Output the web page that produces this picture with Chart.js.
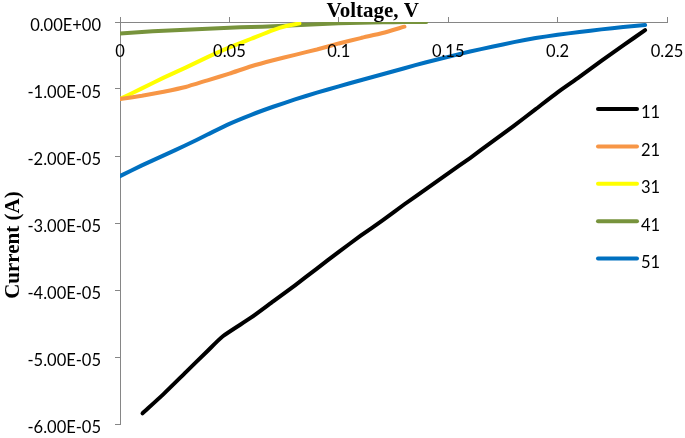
<!DOCTYPE html>
<html><head><meta charset="utf-8">
<script src="https://cdn.jsdelivr.net/npm/chart.js@4"></script>
<style>html,body{margin:0;padding:0;background:#fff}#wrap{width:685px;height:438px}</style>
</head><body><div id="wrap"><canvas id="c" width="685" height="438"></canvas></div>
<script>
const seriesNames = ['11','21','31','41','51'];
const seriesColors = ['#000000','#F79646','#FFFF00','#77933C','#0070C0'];

const volt11 = [0.0103,0.02,0.03,0.04,0.047,0.06,0.07,0.08,0.09,0.10,0.11,0.12,0.13,0.14,0.15,0.16,0.17,0.18,0.19,0.20,0.21,0.22,0.23,0.24];
const curr11 = [-5.84e-5,-5.55e-5,-5.23e-5,-4.91e-5,-4.69e-5,-4.41e-5,-4.17e-5,-3.93e-5,-3.68e-5,-3.43e-5,-3.19e-5,-2.96e-5,-2.72e-5,-2.49e-5,-2.26e-5,-2.03e-5,-1.79e-5,-1.55e-5,-1.30e-5,-1.05e-5,-0.82e-5,-0.58e-5,-0.35e-5,-0.12e-5];

const volt21 = [0,0.01,0.02,0.03,0.04,0.05,0.06,0.07,0.08,0.09,0.10,0.11,0.12,0.13];
const curr21 = [-1.15e-5,-1.10e-5,-1.04e-5,-0.97e-5,-0.87e-5,-0.77e-5,-0.66e-5,-0.57e-5,-0.49e-5,-0.41e-5,-0.32e-5,-0.24e-5,-0.165e-5,-0.07e-5];

const volt31 = [0,0.01,0.02,0.03,0.04,0.05,0.06,0.07,0.076,0.082];
const curr31 = [-1.15e-5,-0.99e-5,-0.83e-5,-0.68e-5,-0.525e-5,-0.38e-5,-0.25e-5,-0.12e-5,-0.06e-5,-0.02e-5];

const volt41 = [0,0.01,0.02,0.03,0.04,0.05,0.06,0.07,0.08,0.09,0.10,0.11,0.12,0.13,0.14];
const curr41 = [-0.17e-5,-0.15e-5,-0.13e-5,-0.115e-5,-0.10e-5,-0.085e-5,-0.075e-5,-0.065e-5,-0.05e-5,-0.035e-5,-0.02e-5,-0.01e-5,-0.005e-5,0,0];

const volt51 = [0,0.01,0.02,0.03,0.04,0.05,0.06,0.07,0.08,0.09,0.10,0.11,0.12,0.13,0.14,0.15,0.16,0.17,0.18,0.19,0.20,0.21,0.22,0.23,0.24];
const curr51 = [-2.30e-5,-2.14e-5,-1.99e-5,-1.84e-5,-1.68e-5,-1.52e-5,-1.385e-5,-1.265e-5,-1.155e-5,-1.055e-5,-0.96e-5,-0.87e-5,-0.78e-5,-0.69e-5,-0.60e-5,-0.52e-5,-0.44e-5,-0.37e-5,-0.30e-5,-0.24e-5,-0.19e-5,-0.15e-5,-0.11e-5,-0.075e-5,-0.045e-5];

const xTickValues = [0,0.05,0.1,0.15,0.2,0.25];
const xTickLabels = ['0','0.05','0.1','0.15','0.2','0.25'];
const xTitle = 'Voltage, V';
const yTitle = 'Current (A)';

const volts = [volt11, volt21, volt31, volt41, volt51];
const currs = [curr11, curr21, curr31, curr41, curr51];

function pts(v, c){ return v.map((x,i)=>({x:x, y:c[i]})); }
function fmtE(val){
  const s = Number(val).toExponential(2);
  const parts = s.split('e');
  const sign = parts[1][0] === '-' ? '-' : '+';
  let d = parts[1].replace(/[+-]/,'');
  if (d.length < 2) d = '0' + d;
  return parts[0] + 'E' + sign + d;
}

const AXIS = '#868686';
const FS = 16.5;
const TICKFONT = {family: 'Lato', size: FS};

const overlay = {
  id: 'overlay',
  afterDraw(chart){
    const ctx = chart.ctx, ca = chart.chartArea, xs = chart.scales.x;
    ctx.save();
    ctx.font = FS + 'px Lato';
    ctx.fillStyle = '#000';
    ctx.textAlign = 'center';
    ctx.textBaseline = 'middle';
    xTickValues.forEach((v,i)=>{
      ctx.fillText(xTickLabels[i], xs.getPixelForValue(v), ca.top + 30);
    });
    ctx.font = 'bold 21px "Liberation Serif", "Times New Roman", serif';
    ctx.textAlign = 'center';
    ctx.textBaseline = 'alphabetic';
    ctx.fillText(xTitle, ca.left + (ca.right - ca.left) * 0.462, 17);
    ctx.save();
    ctx.translate(14, ca.top + (ca.bottom - ca.top) * 0.555);
    ctx.rotate(-Math.PI/2);
    ctx.textBaseline = 'middle';
    ctx.fillText(yTitle, 0, 0);
    ctx.restore();
    chart.data.datasets.forEach((ds,i)=>{
      const y = 109 + i * 37.4;
      ctx.strokeStyle = ds.borderColor;
      ctx.lineWidth = 4;
      ctx.lineCap = 'round';
      ctx.beginPath();
      ctx.moveTo(598, y);
      ctx.lineTo(637, y);
      ctx.stroke();
      ctx.fillStyle = '#000';
      ctx.font = FS + 'px Lato';
      ctx.textAlign = 'left';
      ctx.textBaseline = 'middle';
      ctx.fillText(ds.label, 641, y + 4);
    });
    ctx.restore();
  }
};

new Chart(document.getElementById('c'), {
  type: 'scatter',
  data: {
    datasets: seriesNames.map((n,i)=>({
      label: n,
      data: pts(volts[i], currs[i]),
      showLine: true,
      borderColor: seriesColors[i],
      backgroundColor: seriesColors[i],
      borderWidth: 4,
      pointRadius: 0,
      pointHoverRadius: 0,
      tension: 0.2,
      borderCapStyle: 'round',
      borderJoinStyle: 'round'
    }))
  },
  options: {
    responsive: false,
    animation: false,
    events: [],
    layout: {padding: {left: 0, top: 0, right: 18, bottom: 14}},
    plugins: {legend: {display: false}, tooltip: {enabled: false}, title: {display: false}},
    scales: {
      x: {
        type: 'linear', position: 'top', min: 0, max: 0.25,
        afterFit(s){ s.height = 22; s.paddingLeft = 0; s.paddingRight = 0; },
        ticks: {display: false, stepSize: 0.05},
        grid: {display: true, drawOnChartArea: false, drawTicks: true, tickLength: 5, color: AXIS},
        border: {display: true, color: AXIS, width: 1}
      },
      y: {
        type: 'linear', position: 'left', min: -6e-5, max: 0,
        afterFit(s){ s.width = 120; s.paddingTop = 0; s.paddingBottom = 0; },
        ticks: {stepSize: 1e-5, color: '#000', font: TICKFONT, padding: 14, labelOffset: 4, callback: (v)=>fmtE(v)},
        grid: {display: true, drawOnChartArea: false, drawTicks: true, tickLength: 5, color: AXIS},
        border: {display: true, color: AXIS, width: 1}
      }
    }
  },
  plugins: [overlay]
});
</script></body></html>
